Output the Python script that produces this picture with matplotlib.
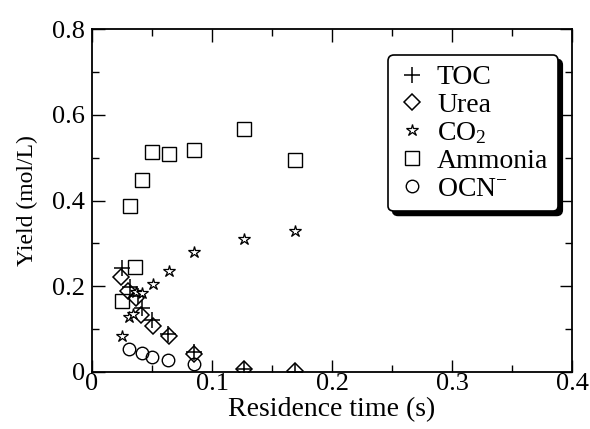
import matplotlib as mpl
mpl.use('Agg')
import matplotlib.pyplot as plt

mpl.rcParams['font.family'] = ['Liberation Serif', 'DejaVu Serif']
mpl.rcParams['mathtext.fontset'] = 'custom'
mpl.rcParams['mathtext.rm'] = 'Liberation Serif'
mpl.rcParams['mathtext.default'] = 'regular'

# residence time (s) and yields (mol/L)
toc_t = [0.025, 0.032, 0.038, 0.042, 0.050, 0.063, 0.085, 0.127, 0.169]
toc_y = [0.243, 0.198, 0.177, 0.149, 0.122, 0.089, 0.047, 0.008, 0.001]

urea_t = [0.024, 0.030, 0.037, 0.041, 0.051, 0.064, 0.085, 0.127, 0.169]
urea_y = [0.221, 0.188, 0.172, 0.133, 0.108, 0.085, 0.043, 0.008, 0.002]

co2_t = [0.025, 0.031, 0.034, 0.037, 0.042, 0.051, 0.064, 0.085, 0.127, 0.169]
co2_y = [0.085, 0.129, 0.135, 0.186, 0.184, 0.205, 0.236, 0.281, 0.311, 0.329]

nh3_t = [0.025, 0.032, 0.036, 0.042, 0.050, 0.064, 0.085, 0.127, 0.169]
nh3_y = [0.165, 0.388, 0.246, 0.449, 0.514, 0.509, 0.518, 0.567, 0.495]

ocn_t = [0.031, 0.042, 0.050, 0.063, 0.085]
ocn_y = [0.054, 0.044, 0.036, 0.029, 0.019]

x_ticks = [0, 0.1, 0.2, 0.3, 0.4]
x_labels = ['0', '0.1', '0.2', '0.3', '0.4']
y_ticks = [0, 0.2, 0.4, 0.6, 0.8]
y_labels = ['0', '0.2', '0.4', '0.6', '0.8']

fig = plt.figure(figsize=(5.9, 4.29), dpi=100)
ax = fig.add_axes([0.156, 0.133, 0.8135, 0.799])

ax.plot(toc_t, toc_y, ls='none', marker='+', ms=12, mew=1.1, color='k', label='TOC')
ax.plot(urea_t, urea_y, ls='none', marker='D', ms=8, mew=1.1, mfc='none', mec='k', label='Urea')
ax.plot(co2_t, co2_y, ls='none', marker='*', ms=9, mew=0.9, mfc='white', mec='k', label='CO$_2$')
ax.plot(nh3_t, nh3_y, ls='none', marker='s', ms=10, mew=1.0, mfc='none', mec='k', label='Ammonia')
ax.plot(ocn_t, ocn_y, ls='none', marker='o', ms=9, mew=1.0, mfc='none', mec='k', label='OCN$^{-}$')

ax.set_xlim(0, 0.4)
ax.set_ylim(0, 0.8)
ax.set_xticks(x_ticks, x_labels)
ax.set_yticks(y_ticks, y_labels)
ax.set_xticks([0.05, 0.15, 0.25, 0.35], minor=True)
ax.set_yticks([0.1, 0.3, 0.5, 0.7], minor=True)
ax.tick_params(which='both', direction='in', top=True, right=True, labelsize=19, width=1.0)
ax.tick_params(which='major', length=9)
ax.tick_params(axis='x', which='major', pad=1)
ax.tick_params(axis='y', which='major', pad=5)
ax.tick_params(which='minor', length=5)
for s in ax.spines.values():
    s.set_linewidth(1.3)

ax.set_xlabel('Residence time (s)', fontsize=20, labelpad=1)
ax.set_ylabel('Yield (mol/L)', fontsize=17, labelpad=10)

leg = ax.legend(loc='upper right', bbox_to_anchor=(0.971, 0.924), fontsize=20,
                frameon=True, fancybox=True,
                shadow={'ox': 3, 'oy': -3, 'color': 'k', 'alpha': 1},
                handletextpad=0.4, labelspacing=0.08, borderpad=0.35,
                handlelength=1.0, borderaxespad=0)
leg.get_frame().set_edgecolor('k')
leg.get_frame().set_linewidth(1.2)
leg.get_frame().set_alpha(1)

fig.savefig('out.png', dpi=100)
